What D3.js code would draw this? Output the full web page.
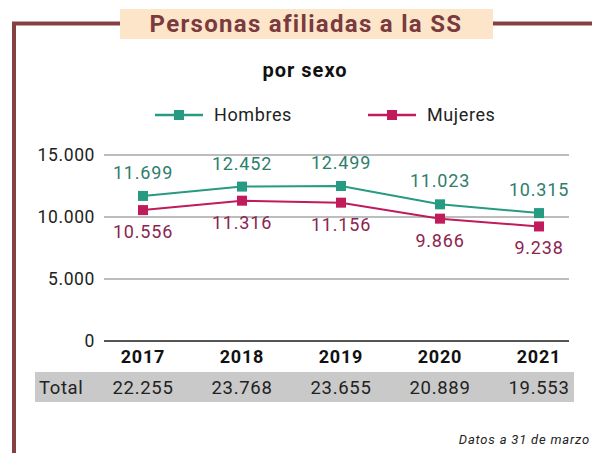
<!DOCTYPE html>
<html>
<head>
<meta charset="utf-8">
<script src="https://cdn.jsdelivr.net/npm/d3@7"></script>
<style>
  body { margin: 0; background: #fff; }
  svg { display: block; font-family: Roboto, 'Noto Sans', sans-serif; }
</style>
</head>
<body>
<svg></svg>
<script>
const width = 592
const height = 453

// data
const years = ['2017', '2018', '2019', '2020', '2021']
const hombres = [11699, 12452, 12499, 11023, 10315]
const mujeres = [10556, 11316, 11156, 9866, 9238]
const totals = [22255, 23768, 23655, 20889, 19553]
const yTicks = [0, 5000, 10000, 15000]

const teal = '#279a82'
const tealText = '#2e7e6c'
const crimson = '#c01b5a'
const crimsonText = '#8c2550'
const brown = '#874040'

const fmt = (v) => d3.format(',')(v).replace(/,/g, '.')

const svg = d3.select('svg').attr('width', width).attr('height', height)

// frame + title
svg.append('path')
  .attr('d', 'M14,453 L14,23.5 L125,23.5 M490,23.5 L592,23.5')
  .attr('fill', 'none')
  .attr('stroke', brown)
  .attr('stroke-width', 4)
svg.append('rect')
  .attr('x', 120).attr('y', 9).attr('width', 373).attr('height', 30)
  .attr('fill', '#fde5c9')
svg.append('text')
  .attr('x', 306).attr('y', 32)
  .attr('text-anchor', 'middle')
  .attr('font-size', 24).attr('font-weight', 'bold')
  .attr('letter-spacing', 1.3)
  .attr('fill', '#7b3a3e')
  .text('Personas afiliadas a la SS')
svg.append('text')
  .attr('x', 305).attr('y', 77)
  .attr('text-anchor', 'middle')
  .attr('font-size', 20).attr('font-weight', 'bold')
  .attr('letter-spacing', 1)
  .attr('fill', '#111')
  .text('por sexo')

// scales
const x = d3.scalePoint().domain(years).range([143, 539])
const y = d3.scaleLinear().domain([0, 15000]).range([341, 155])

// gridlines
svg.append('g').selectAll('line')
  .data(yTicks)
  .join('line')
  .attr('x1', 104).attr('x2', 569)
  .attr('y1', (d) => y(d)).attr('y2', (d) => y(d))
  .attr('stroke', (d) => (d === 0 ? '#555' : '#bdbdbd'))
  .attr('stroke-width', 2)

const yAxis = svg.append('g')
  .attr('transform', 'translate(104,0)')
  .call(d3.axisLeft(y).tickValues(yTicks).tickFormat(fmt).tickSize(0).tickPadding(9))
yAxis.select('.domain').remove()
yAxis.selectAll('text')
  .attr('font-size', 17.5).attr('fill', '#222')
  .attr('letter-spacing', 0.6)
  .attr('font-family', 'Roboto, sans-serif')

// year labels
svg.append('g').selectAll('text')
  .data(years)
  .join('text')
  .attr('x', (d) => x(d)).attr('y', 363)
  .attr('text-anchor', 'middle')
  .attr('font-size', 18).attr('font-weight', 'bold')
  .attr('letter-spacing', 0.8)
  .attr('fill', '#111')
  .text((d) => d)

// series
const series = [
  { name: 'Hombres', values: hombres, color: teal, textColor: tealText, dy: -17 },
  { name: 'Mujeres', values: mujeres, color: crimson, textColor: crimsonText, dy: 28 },
]

const line = d3.line().x((d, i) => x(years[i])).y((d) => y(d))

series.forEach((s) => {
  const g = svg.append('g')
  g.append('path')
    .attr('d', line(s.values))
    .attr('fill', 'none')
    .attr('stroke', s.color)
    .attr('stroke-width', 2)
  g.selectAll('rect')
    .data(s.values)
    .join('rect')
    .attr('x', (d, i) => x(years[i]) - 5)
    .attr('y', (d) => y(d) - 5)
    .attr('width', 10).attr('height', 10)
    .attr('fill', s.color)
  g.selectAll('text')
    .data(s.values)
    .join('text')
    .attr('x', (d, i) => x(years[i]))
    .attr('y', (d) => y(d) + s.dy)
    .attr('text-anchor', 'middle')
    .attr('font-size', 18)
    .attr('letter-spacing', 0.8)
    .attr('fill', s.textColor)
    .text((d) => fmt(d))
})

// legend
const legendX = [155, 368]
series.forEach((s, i) => {
  const g = svg.append('g').attr('transform', `translate(${legendX[i]},115)`)
  g.append('line').attr('x1', 0).attr('x2', 48)
    .attr('stroke', s.color).attr('stroke-width', 2.5)
  g.append('rect').attr('x', 19).attr('y', -5).attr('width', 10).attr('height', 10)
    .attr('fill', s.color)
  g.append('text').attr('x', 59).attr('y', 6)
    .attr('font-size', 18).attr('fill', '#222')
    .attr('letter-spacing', 0.6)
    .text(s.name)
})

// total row
svg.append('rect')
  .attr('x', 35).attr('y', 372).attr('width', 539).attr('height', 30)
  .attr('fill', '#c9c9c9')
svg.append('text')
  .attr('x', 39).attr('y', 394)
  .attr('font-size', 18.5).attr('fill', '#222')
  .attr('letter-spacing', 0.6)
  .text('Total')
svg.append('g').selectAll('text')
  .data(totals)
  .join('text')
  .attr('x', (d, i) => x(years[i])).attr('y', 394)
  .attr('text-anchor', 'middle')
  .attr('font-size', 18.5).attr('fill', '#222')
  .attr('letter-spacing', 0.7)
  .text((d) => fmt(d))

// note
svg.append('text')
  .attr('x', 590).attr('y', 444)
  .attr('text-anchor', 'end')
  .attr('font-size', 13).attr('font-style', 'italic')
  .attr('letter-spacing', 0.8)
  .attr('fill', '#222')
  .text('Datos a 31 de marzo')
</script>
</body>
</html>
